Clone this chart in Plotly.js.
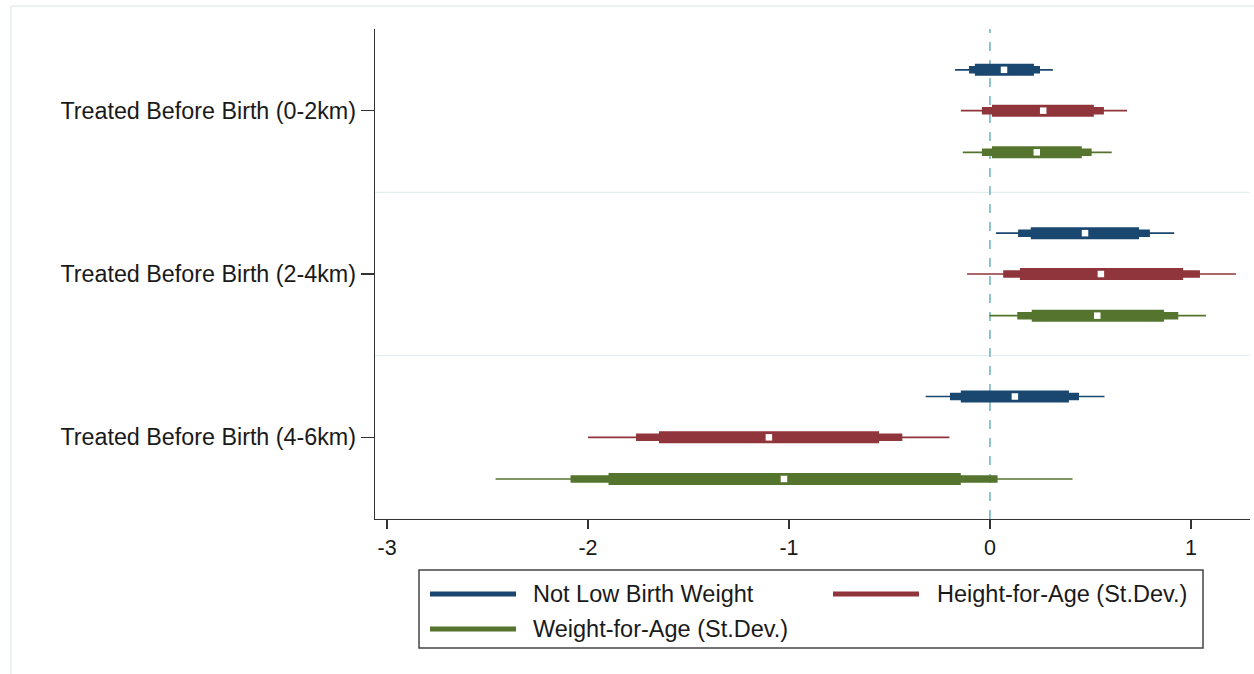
<!DOCTYPE html>
<html>
<head>
<meta charset="utf-8">
<script src="https://cdn.plot.ly/plotly-3.0.1.min.js"></script>
<style>
  html, body { margin: 0; padding: 0; background: #ffffff; }
  #chart { width: 1254px; height: 674px; }
</style>
</head>
<body>
<div id="chart"></div>
<script>
// ---- data ----
const groups = ["Treated Before Birth (0-2km)", "Treated Before Birth (2-4km)", "Treated Before Birth (4-6km)"];
const seriesNames = ["Not Low Birth Weight", "Height-for-Age (St.Dev.)", "Weight-for-Age (St.Dev.)"];
const xTicks = [-3, -2, -1, 0, 1];

// Not Low Birth Weight
const nlbwPoint   = [0.07, 0.473, 0.124];
const nlbwThinLo  = [-0.174, 0.03, -0.32];
const nlbwThinHi  = [0.313, 0.917, 0.57];
const nlbwMedLo   = [-0.104, 0.14, -0.199];
const nlbwMedHi   = [0.249, 0.796, 0.443];
const nlbwThickLo = [-0.075, 0.203, -0.145];
const nlbwThickHi = [0.219, 0.742, 0.393];

// Height-for-Age
const hfaPoint   = [0.265, 0.552, -1.10];
const hfaThinLo  = [-0.145, -0.114, -2.0];
const hfaThinHi  = [0.682, 1.224, -0.202];
const hfaMedLo   = [-0.04, 0.066, -1.761];
const hfaMedHi   = [0.567, 1.045, -0.436];
const hfaThickLo = [0.01, 0.149, -1.647];
const hfaThickHi = [0.517, 0.961, -0.552];

// Weight-for-Age
const wfaPoint   = [0.233, 0.534, -1.025];
const wfaThinLo  = [-0.135, -0.003, -2.46];
const wfaThinHi  = [0.606, 1.075, 0.411];
const wfaMedLo   = [-0.04, 0.136, -2.087];
const wfaMedHi   = [0.506, 0.937, 0.038];
const wfaThickLo = [0.01, 0.208, -1.898];
const wfaThickHi = [0.457, 0.866, -0.145];

const colors = ["#1a476f", "#90353b", "#55752f"];
const offsets = [0.25, 0.0, -0.255];
const groupY = [2, 1, 0];

const series = [
  {pt: nlbwPoint, thin: [nlbwThinLo, nlbwThinHi], med: [nlbwMedLo, nlbwMedHi], thick: [nlbwThickLo, nlbwThickHi]},
  {pt: hfaPoint, thin: [hfaThinLo, hfaThinHi], med: [hfaMedLo, hfaMedHi], thick: [hfaThickLo, hfaThickHi]},
  {pt: wfaPoint, thin: [wfaThinLo, wfaThinHi], med: [wfaMedLo, wfaMedHi], thick: [wfaThickLo, wfaThickHi]}
];

const widths = {thin: 1.7, med: 7.5, thick: 12};
const traces = [];
series.forEach((s, si) => {
  ["thin", "med", "thick"].forEach(lvl => {
    const xs = [], ys = [];
    for (let g = 0; g < 3; g++) {
      const y = groupY[g] + offsets[si];
      xs.push(s[lvl][0][g], s[lvl][1][g], null);
      ys.push(y, y, null);
    }
    traces.push({
      x: xs, y: ys, mode: "lines", type: "scatter",
      line: {color: colors[si], width: widths[lvl]},
      showlegend: false, hoverinfo: "skip", name: seriesNames[si]
    });
  });
});
series.forEach((s, si) => {
  traces.push({
    x: s.pt, y: groupY.map(g => g + offsets[si]),
    mode: "markers", type: "scatter",
    marker: {symbol: "square", color: "#ffffff", size: 6.5, line: {width: 0}},
    showlegend: false, name: seriesNames[si]
  });
});

// ---- layout helpers (pixel -> paper) ----
const L = 375, R = 1250, T = 29, B = 519;
const px = v => (v - L) / (R - L);
const py = v => (B - v) / (B - T);

const shapes = [
  // outer frame (graph region)
  {type: "line", xref: "paper", yref: "paper", x0: px(11), x1: px(1254), y0: py(6), y1: py(6), line: {color: "#e6ecec", width: 1.5}},
  {type: "line", xref: "paper", yref: "paper", x0: px(11), x1: px(11), y0: py(6), y1: py(674), line: {color: "#e6ecec", width: 1.5}},
  // group separators
  {type: "line", xref: "paper", yref: "y", x0: 0, x1: 1, y0: 1.5, y1: 1.5, line: {color: "#dcecee", width: 1}, layer: "below"},
  {type: "line", xref: "paper", yref: "y", x0: 0, x1: 1, y0: 0.5, y1: 0.5, line: {color: "#dcecee", width: 1}, layer: "below"},
  // zero reference line
  {type: "line", xref: "x", yref: "paper", x0: 0, x1: 0, y0: 0, y1: 1, line: {color: "#6db3bd", width: 1.5, dash: "dash"}, layer: "below"},
  // legend box
  {type: "rect", xref: "paper", yref: "paper", x0: px(419), x1: px(1203), y0: py(570), y1: py(648), line: {color: "#444444", width: 1.5}, fillcolor: "rgba(0,0,0,0)"}
];
const annotations = [];
const legendPos = [[430, 531, 594], [833, 935, 594], [430, 531, 629]];
seriesNames.forEach((nm, i) => {
  const [lx, tx, ly] = legendPos[i];
  shapes.push({type: "line", xref: "paper", yref: "paper", x0: px(lx), x1: px(lx + 86), y0: py(ly), y1: py(ly), line: {color: colors[i], width: 5}});
  annotations.push({xref: "paper", yref: "paper", x: px(tx), y: py(ly), xanchor: "left", yanchor: "middle", text: nm, showarrow: false, font: {size: 23.5, color: "#1a1a1a"}});
});

const layout = {
  width: 1254, height: 674,
  margin: {l: L, r: 1254 - R, t: T, b: 674 - B, pad: 0},
  paper_bgcolor: "#ffffff", plot_bgcolor: "#ffffff",
  font: {family: "Liberation Sans, Arial, sans-serif", size: 22, color: "#1a1a1a"},
  showlegend: false,
  xaxis: {
    range: [-3.06, 1.294], tickvals: xTicks, ticktext: xTicks.map(String),
    showgrid: false, zeroline: false, showline: true, linecolor: "#333333", linewidth: 1.3,
    ticks: "outside", ticklen: 9, tickcolor: "#333333", tickwidth: 1.3,
    tickfont: {size: 21.5}
  },
  yaxis: {
    range: [-0.5, 2.5], tickvals: groupY, ticktext: groups,
    showgrid: false, zeroline: false, showline: true, linecolor: "#333333", linewidth: 1.3,
    ticks: "outside", ticklen: 13, tickcolor: "#333333", tickwidth: 1.3,
    tickfont: {size: 23.3}
  },
  shapes: shapes,
  annotations: annotations
};

Plotly.newPlot("chart", traces, layout, {displayModeBar: false, staticPlot: true});
</script>
</body>
</html>
